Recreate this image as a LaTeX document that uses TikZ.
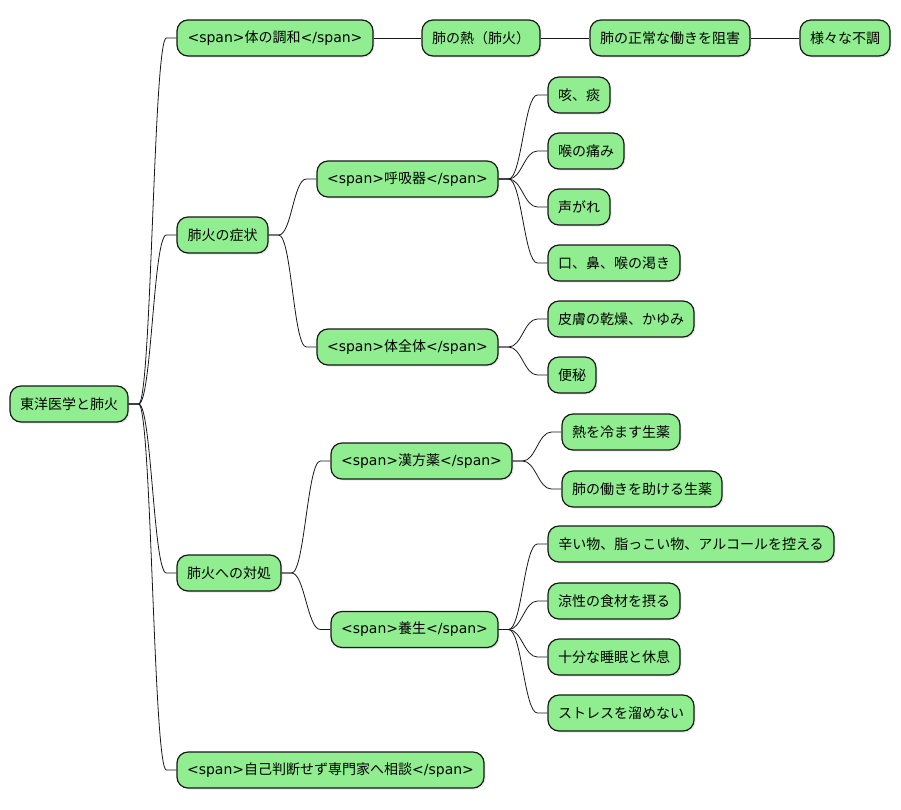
\documentclass[tikz,border=0pt]{standalone}
\usepackage{fontspec}
\setmainfont{DejaVu Sans}
\newfontfamily\cjk{Noto Sans CJK JP}
\usetikzlibrary{shadows}
\definecolor{mmgreen}{HTML}{90EE90}
\definecolor{mmline}{HTML}{181818}
\newcommand\mmlink[2]{\draw[link] (#1.east) -- ++(10,0) .. controls +(13,0) and +(-13,0) .. ([xshift=-10pt]#2.west) -- (#2.west);}
\begin{document}
\begin{tikzpicture}[x=1pt,y=-1pt,
  mm/.style={draw=mmline, line width=1.2pt, fill=mmgreen, rounded corners=11pt,
    minimum height=36pt, inner sep=0pt, font=\fontsize{14}{16}\selectfont,
    drop shadow={opacity=0.18, shadow xshift=1.5pt, shadow yshift=-1.5pt}},
  link/.style={draw=mmline, line width=0.8pt}]
\useasboundingbox[fill=white] (0,0) rectangle (901,809);
% level 0
\node[mm, minimum width=118pt] (root) at (69,404) {\cjk 東洋医学と肺火};
% level 1
\node[mm, minimum width=196pt] (n1) at (275,38) {<span>{\cjk 体の調和}</span>};
\node[mm, minimum width=91pt] (n2) at (222.5,235) {\cjk 肺火の症状};
\node[mm, minimum width=104pt] (n3) at (229,573) {\cjk 肺火への対処};
\node[mm, minimum width=307pt] (n4) at (330.5,770) {<span>{\cjk 自己判断せず専門家へ相談}</span>};
% chain
\node[mm, minimum width=118pt] (n1a) at (481,38) {\cjk 肺の熱（肺火）};
\node[mm, minimum width=160pt] (n1b) at (670,38) {\cjk 肺の正常な働きを阻害};
\node[mm, minimum width=90pt] (n1c) at (845,38) {\cjk 様々な不調};
% symptoms
\node[mm, minimum width=181pt] (n2a) at (407.5,179) {<span>{\cjk 呼吸器}</span>};
\node[mm, minimum width=181pt] (n2b) at (407.5,347) {<span>{\cjk 体全体}</span>};
\node[mm, minimum width=62pt] (s1) at (579,95) {\cjk 咳、痰};
\node[mm, minimum width=76pt] (s2) at (586,151) {\cjk 喉の痛み};
\node[mm, minimum width=62pt] (s3) at (579,207) {\cjk 声がれ};
\node[mm, minimum width=132pt] (s4) at (614,263) {\cjk 口、鼻、喉の渇き};
\node[mm, minimum width=146pt] (s5) at (621,319) {\cjk 皮膚の乾燥、かゆみ};
\node[mm, minimum width=48pt] (s6) at (572,375) {\cjk 便秘};
% treatment
\node[mm, minimum width=181pt] (n3a) at (421.5,461) {<span>{\cjk 漢方薬}</span>};
\node[mm, minimum width=167pt] (n3b) at (414.5,629.5) {<span>{\cjk 養生}</span>};
\node[mm, minimum width=118pt] (t1) at (621,432) {\cjk 熱を冷ます生薬};
\node[mm, minimum width=160pt] (t2) at (642,489) {\cjk 肺の働きを助ける生薬};
\node[mm, minimum width=286pt] (t3) at (691,544) {\cjk 辛い物、脂っこい物、アルコールを控える};
\node[mm, minimum width=132pt] (t4) at (614,601) {\cjk 涼性の食材を摂る};
\node[mm, minimum width=132pt] (t5) at (614,657) {\cjk 十分な睡眠と休息};
\node[mm, minimum width=146pt] (t6) at (621,713) {\cjk ストレスを溜めない};
% links
\mmlink{root}{n1}
\mmlink{root}{n2}
\mmlink{root}{n3}
\mmlink{root}{n4}
\draw[link] (n1) -- (n1a);
\draw[link] (n1a) -- (n1b);
\draw[link] (n1b) -- (n1c);
\mmlink{n2}{n2a}
\mmlink{n2}{n2b}
\mmlink{n2a}{s1}
\mmlink{n2a}{s2}
\mmlink{n2a}{s3}
\mmlink{n2a}{s4}
\mmlink{n2b}{s5}
\mmlink{n2b}{s6}
\mmlink{n3}{n3a}
\mmlink{n3}{n3b}
\mmlink{n3a}{t1}
\mmlink{n3a}{t2}
\mmlink{n3b}{t3}
\mmlink{n3b}{t4}
\mmlink{n3b}{t5}
\mmlink{n3b}{t6}
\end{tikzpicture}
\end{document}
